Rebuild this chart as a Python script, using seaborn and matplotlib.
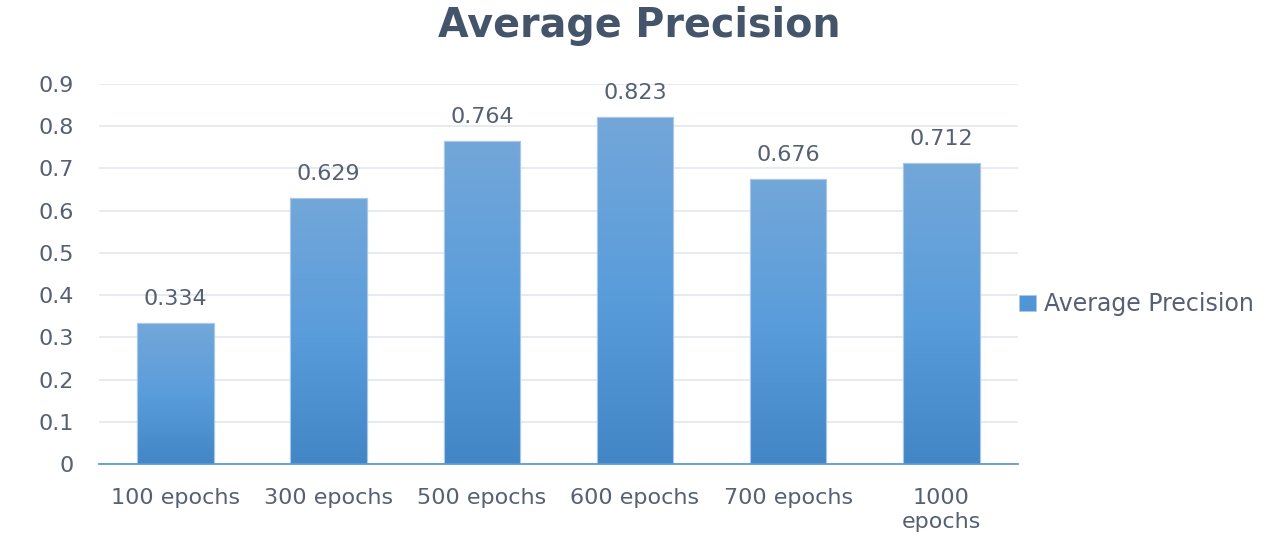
import numpy as np
import pandas as pd
import matplotlib
matplotlib.use("Agg")
import matplotlib.pyplot as plt
import seaborn as sns
from matplotlib.colors import LinearSegmentedColormap
from matplotlib.patches import Rectangle

categories = ["100 epochs", "300 epochs", "500 epochs", "600 epochs", "700 epochs", "1000\nepochs"]
precision = [0.334, 0.629, 0.764, 0.823, 0.676, 0.712]
y_ticks = [0, 0.1, 0.2, 0.3, 0.4, 0.5, 0.6, 0.7, 0.8, 0.9]
y_tick_labels = ["0", "0.1", "0.2", "0.3", "0.4", "0.5", "0.6", "0.7", "0.8", "0.9"]
series_name = "Average Precision"

sns.set_style("white")
plt.rcParams["font.family"] = ["DejaVu Sans"]

text_color = "#556074"
title_color = "#44546a"
grid_color = "#e3e6ec"
axis_color = "#5b9bd5"
fs = 16

df = pd.DataFrame({"epochs": categories, "precision": precision})

fig = plt.figure(figsize=(12.78, 5.36), dpi=100)
ax = fig.add_axes([0.0775, 0.1343, 0.719, 0.709])

sns.barplot(data=df, x="epochs", y="precision", color="#5b9bd5", width=0.5,
            ax=ax, zorder=2, saturation=1)

# vertical gradient fill for each bar, clipped to the bar rectangle
cmap = LinearSegmentedColormap.from_list("bar_grad", ["#4286c6", "#5a9ddb", "#73a7d9"])
grad = np.linspace(0, 1, 256).reshape(-1, 1)
for patch in ax.patches:
    x0, y0 = patch.get_x(), patch.get_y()
    w, h = patch.get_width(), patch.get_height()
    patch.set_edgecolor("#a9c8ea")
    patch.set_linewidth(0.8)
    im = ax.imshow(grad, cmap=cmap, origin="lower", aspect="auto",
                   extent=[x0, x0 + w, y0, y0 + h], zorder=3, interpolation="bicubic")
    im.set_clip_path(patch)
    ax.add_patch(Rectangle((x0, y0), w, h, fill=False, edgecolor="#a9c8ea",
                           linewidth=0.8, zorder=4))
    ax.text(x0 + w / 2, y0 + h + 0.033, f"{h:.3f}", ha="center", va="bottom",
            fontsize=fs, color=text_color, zorder=5)

ax.set_xlim(-0.5, len(categories) - 0.5)
ax.set_ylim(0, 0.9)
ax.set_yticks(y_ticks)
ax.set_yticklabels(y_tick_labels)
ax.yaxis.grid(True, color=grid_color, linewidth=1.2, zorder=0)
ax.set_axisbelow(True)
ax.set_xlabel("")
ax.set_ylabel("")
for side in ["top", "right", "left"]:
    ax.spines[side].set_visible(False)
ax.spines["bottom"].set_color(axis_color)
ax.spines["bottom"].set_linewidth(1.3)
ax.spines["bottom"].set_zorder(6)
ax.tick_params(axis="both", length=0, labelsize=fs, colors=text_color)
ax.tick_params(axis="y", pad=18)
ax.tick_params(axis="x", pad=17)
for lbl in ax.get_xticklabels():
    lbl.set_linespacing(1.3)

fig.text(0.5, 0.952, series_name, ha="center", va="center", fontsize=28.5,
         fontweight="bold", color=title_color)

handle = Rectangle((0, 0), 1, 1, facecolor="#5096d6", edgecolor="#a9c8ea", linewidth=0.5)
fig.legend([handle], [series_name], loc="center left", bbox_to_anchor=(0.781, 0.432),
           frameon=False, fontsize=17, handlelength=0.7, handleheight=0.7,
           handletextpad=0.35, labelcolor=text_color)

fig.savefig("out.png", dpi=100)
